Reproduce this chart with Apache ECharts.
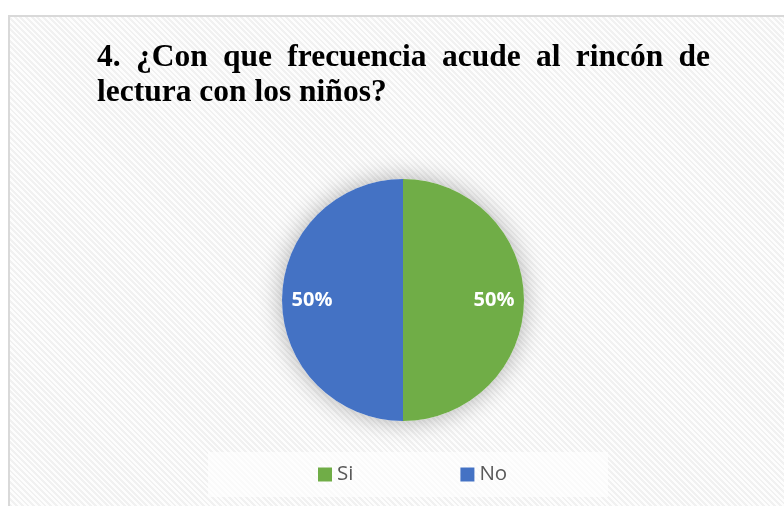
<!DOCTYPE html>
<html>
<head>
<meta charset="utf-8">
<script src="https://cdn.jsdelivr.net/npm/echarts@6/dist/echarts.min.js"></script>
<style>
  html, body { margin: 0; padding: 0; background: #ffffff; }
  #wrap { position: relative; width: 784px; height: 506px; overflow: hidden; background: #ffffff; }
  #frame { position: absolute; left: 8px; top: 15px; width: 800px; height: 520px;
    border-left: 2px solid #d9d9d9; border-top: 2px solid #d9d9d9;
    background: repeating-linear-gradient(45deg, #fdfdfd 0px, #fdfdfd 2px, #f1f1f1 2px, #f1f1f1 4px); }
  #chart { position: absolute; left: 0; top: 0; width: 784px; height: 506px; }
</style>
</head>
<body>
<div id="wrap"><div id="frame"></div><div id="chart"></div></div>
<script>
// ---- data ----
const titleLine1 = "4. ¿Con que frecuencia acude al rincón de";
const titleLine2 = "lectura con los niños?";
const categories = ["Si", "No"];
const values = [50, 50];
const colors = ["#70ad47", "#4472c4"];

// ---- title layout (justified first line) ----
const FAMILY = 'Liberation Serif';
const FSIZE = 31.5;
const ctx = document.createElement('canvas').getContext('2d');
ctx.font = 'bold ' + FSIZE + 'px "' + FAMILY + '"';
const left = 97, right = 710;
const graphics = [];
function tstyle(t) {
  return { text: t, fontFamily: FAMILY, fontSize: FSIZE, fontWeight: 'bold', fill: '#000000',
    verticalAlign: 'middle', align: 'left' };
}
(function () {
  const words = titleLine1.split(' ');
  const widths = words.map(w => ctx.measureText(w).width);
  const total = widths.reduce((a, b) => a + b, 0);
  const gap = (right - left - total) / (words.length - 1);
  let x = left;
  words.forEach((w, i) => {
    graphics.push({ type: 'text', x: x, y: 57.5, z: 10, style: tstyle(w) });
    x += widths[i] + gap;
  });
  graphics.push({ type: 'text', x: left, y: 93, z: 10, style: tstyle(titleLine2) });
})();
// legend box
graphics.push({ type: 'rect', shape: { x: 208, y: 452, width: 400, height: 45 }, z: 0,
  style: { fill: 'rgba(255,255,255,0.65)' } });

const data = categories.map((c, i) => ({ name: c, value: values[i], itemStyle: { color: colors[i] } }));
const center = [403, 300];

const chart = echarts.init(document.getElementById('chart'), null, { renderer: 'canvas' });
chart.setOption({
  backgroundColor: 'transparent',
  animation: false,
  graphic: graphics,
  legend: {
    data: categories,
    left: 318, top: 464, padding: 0,
    itemWidth: 14, itemHeight: 14, itemGap: 107,
    icon: 'rect',
    textStyle: { fontFamily: '"Open Sans", sans-serif', fontSize: 20.5, color: '#595959' }
  },
  series: [
    { // shadow disc
      type: 'pie', center: center, radius: 121, silent: true, z: 1,
      label: { show: false }, labelLine: { show: false },
      itemStyle: { color: '#ffffff', shadowBlur: 24, shadowColor: 'rgba(0,0,0,0.3)' },
      data: [{ name: '_bg', value: 1 }]
    },
    {
      type: 'pie', center: center, radius: 121, startAngle: 90, clockwise: true, z: 2,
      silent: true,
      label: { show: false }, labelLine: { show: false },
      itemStyle: { borderWidth: 0 },
      data: data
    },
    { // labels
      type: 'pie', center: center, radius: [58, 118], startAngle: 90, clockwise: true, z: 3,
      silent: true,
      itemStyle: { color: 'rgba(0,0,0,0)' },
      label: { show: true, position: 'inside', formatter: '{d}%', color: '#ffffff',
        fontFamily: '"Open Sans", sans-serif', fontWeight: 'bold', fontSize: 20, padding: [3, 0, 0, 0] },
      labelLine: { show: false },
      data: categories.map((c, i) => ({ name: c, value: values[i] }))
    }
  ]
});
</script>
</body>
</html>
